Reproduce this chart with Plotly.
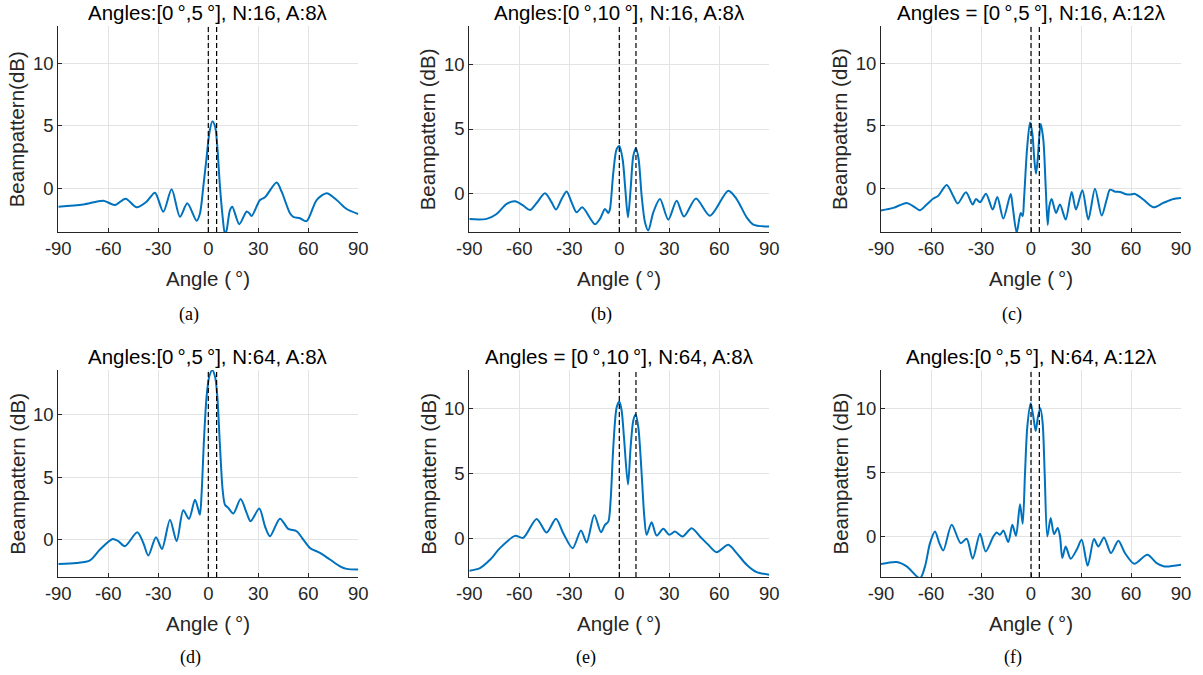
import plotly.graph_objects as go

# ---------------- data ----------------
ang_a = [-90, -75, -63, -56, -49.6, -43, -37, -32, -27, -22, -17, -12.6, -7, -5, -3, -1, 0.6, 2.4, 4, 5.4, 7, 8.6, 10,
         11, 13, 14.4, 18.6, 23, 24.6, 26, 31, 34, 41, 44, 49, 51, 55, 59, 65, 71, 77, 83, 90]
db_a = [-1.47, -1.3, -1.0, -1.34, -0.83, -1.52, -1.07, -0.35, -1.88, -0.08, -2.28, -1.2, -2.6, -2.01, 0.13, 2.5, 4.4,
        5.36, 5.0, 3.35, 0.13, -2.28, -3.7, -3.35, -1.74, -1.47, -2.87, -1.85, -2.0, -2.22, -0.94, -0.72, 0.46, -0.27,
        -2.0, -2.28, -2.4, -2.63, -0.94, -0.4, -0.94, -1.66, -2.06]

ang_b = [-90, -79.6, -73.6, -67.6, -62.6, -57.6, -53.6, -49.6, -44.6, -40.6, -38, -34.6, -31.6, -28.6, -25.6, -22.2,
         -14.6, -11.6, -8.6, -6.6, -5.6, -3.6, -1.6, 0, 2, 3.6, 5.2, 6.8, 8.4, 10, 11.6, 13.4, 15.4, 17.4, 20.4, 24.4,
         29.4, 34.4, 38.8, 46, 54.4, 65.4, 70.4, 76.4, 80.4, 90]
db_b = [-2.0, -1.98, -1.6, -0.82, -0.62, -0.95, -1.29, -0.75, 0, -0.7, -1.26, -0.44, 0.15, -0.7, -1.47, -1.08, -2.4,
        -1.98, -1.21, -1.52, -1.21, 1.62, 3.43, 3.68, 2.65, 0.33, -1.86, 0.33, 2.9, 3.5, 2.65, -0.18, -2.24, -2.89,
        -1.47, -0.44, -2.04, -0.57, -1.8, -0.39, -1.73, 0.21, -0.44, -1.86, -2.42, -2.58]

ang_c = [-90, -82.6, -74.6, -70.6, -66.6, -62.6, -58.6, -55.6, -50.6, -46.6, -44, -39, -35, -33, -30.6, -27, -23,
         -20.2, -16.6, -12.2, -11, -8.6, -6.2, -5, -4.2, -2.4, -0.6, 0.8, 2, 3, 4, 5.8, 7.4, 8.8, 10, 11, 12.4, 15,
         17.4, 20.8, 24.4, 27, 30.8, 34.4, 38.4, 42.4, 45.4, 47.4, 50.4, 53.4, 56.4, 59.4, 62.4, 67.4, 73.4, 79.4,
         85.4, 90]
db_c = [-1.78, -1.57, -1.17, -1.44, -1.76, -1.3, -0.82, -0.59, 0.27, -0.64, -1.22, -0.32, -1.3, -0.85, -1.12, -0.43,
        -1.7, -0.69, -2.42, -0.45, -1.44, -3.56, -1.97, -2.23, -0.9, 3.09, 5.27, 4.4, 2.29, 1.17, 2.29, 5.16, 3.88,
        0.16, -2.93, -1.44, -0.85, -1.97, -1.3, -2.5, -0.29, -1.7, -0.16, -2.5, -0.03, -2.18, -0.9, -0.11, -0.27,
        -0.29, -0.45, -0.5, -0.45, -0.9, -1.52, -1.17, -0.85, -0.77]

ang_d = [-90, -79, -71, -65, -57.4, -54, -50, -42.6, -39, -36, -31.4, -27.8, -23, -19, -15, -11.6, -8, -6, -5, -4,
         -2.6, -1, 0.6, 2.4, 4, 5.4, 7, 8.6, 10, 12, 15, 19.4, 23, 25.4, 30.6, 34, 37, 43, 48, 53, 57, 61, 67, 73, 79,
         83, 90]
db_d = [-1.95, -1.87, -1.66, -0.8, 0.05, -0.13, -0.53, 0.59, -0.27, -1.28, 0.19, -0.75, 1.6, -0.13, 2.35, 1.66, 3.2,
        2.41, 2.0, 3.74, 8.0, 11.5, 13.1, 13.58, 13.1, 11.5, 7.5, 4.0, 2.8, 2.54, 2.09, 3.26, 2.14, 1.47, 2.49, 1.07,
        0.27, 1.68, 0.86, 0.67, 0, -0.67, -1.07, -1.6, -2.14, -2.35, -2.4]

ang_e = [-90, -83.6, -77.6, -71.6, -62.6, -57.6, -49.6, -43.6, -38, -33.6, -28, -23, -19.6, -15, -11, -8.6, -6.6,
         -5.2, -3.6, -1.6, 0, 1.4, 2.8, 5.2, 6.8, 8.4, 9.8, 11.4, 13.4, 15, 16.4, 19.4, 22.4, 26.4, 30, 33.4, 38, 43.4,
         48.4, 53.4, 58.4, 65.4, 70.4, 76.4, 82.4, 90]
db_e = [-2.51, -2.31, -1.67, -0.77, 0.18, 0.03, 1.49, 0.44, 1.51, 0.38, -0.77, 0.59, -0.33, 1.79, 0.46, 1.03, 1.28,
        2.95, 7.05, 10.1, 10.56, 9.87, 7.8, 4.15, 7.05, 9.1, 9.56, 8.59, 5.0, 1.67, 0.26, 1.23, 0.2, 0.72, 0.26, 0.51,
        0.13, 0.77, 0.13, -0.51, -1.08, -0.51, -1.15, -2.05, -2.62, -2.82]

ang_f = [-90, -80.6, -74.6, -66.6, -63.6, -60.6, -57.6, -55, -52.6, -47.6, -42.2, -38.6, -35, -30.6, -27.2, -22.6,
         -20.6, -18.6, -16.6, -13.6, -11.2, -9, -6.6, -5, -3.6, -2.2, -0.2, 1.4, 2.8, 4.2, 5.6, 7, 8.2, 9.8, 11.8, 13.8,
         16, 17.4, 18.8, 20.8, 23.8, 27.4, 30.4, 34, 37.8, 40.4, 43.8, 48, 52.4, 56.4, 62, 69.8, 75.4, 80, 90]
db_f = [-2.19, -2.03, -2.37, -3.3, -2.37, -0.55, 0.36, -0.55, -1.12, 0.89, -0.55, -0.21, -1.77, 0.18, -1.2, -0.03,
        0.29, 0.1, 0.44, -0.47, 0.89, 0.03, 2.5, 0.96, 4.9, 8.57, 10.4, 9.35, 8.23, 9.35, 10.0, 8.83, 4.92, -0.03,
        1.41, 0.16, 0.63, -0.03, -1.72, -0.81, -1.77, -1.07, -0.29, -2.32, -0.23, -0.81, -0.1, -1.33, -0.36, -1.33,
        -2.16, -1.46, -2.11, -2.37, -2.24]

angles = [ang_a, ang_b, ang_c, ang_d, ang_e, ang_f]
values = [db_a, db_b, db_c, db_d, db_e, db_f]
target_angles = [[0, 5], [0, 10], [0, 5], [0, 5], [0, 10], [0, 5]]
titles = ["Angles:[0\u2009°,5\u2009°], N:16, A:8λ",
          "Angles:[0\u2009°,10\u2009°], N:16, A:8λ",
          "Angles = [0\u2009°,5\u2009°], N:16, A:12λ",
          "Angles:[0\u2009°,5\u2009°], N:64, A:8λ",
          "Angles = [0\u2009°,10\u2009°], N:64, A:8λ",
          "Angles:[0\u2009°,5\u2009°], N:64, A:12λ"]
ylabels = ["Beampattern(dB)", "Beampattern (dB)", "Beampattern (dB)",
           "Beampattern (dB)", "Beampattern (dB)", "Beampattern (dB)"]
xlabel = "Angle (\u2009°)"
captions = ["(a)", "(b)", "(c)", "(d)", "(e)", "(f)"]
yranges = [[-3.5, 13], [-3, 13], [-3.5, 13], [-3, 13.6], [-3, 13], [-3.2, 13]]
xticks = [-90, -60, -30, 0, 30, 60, 90]
xticklabels = ["-90", "-60", "-30", "0", "30", "60", "90"]
yticks = [0, 5, 10]
yticklabels = ["0", "5", "10"]

# ---------------- layout geometry (page pixels) ----------------
W, H = 1203, 675
x_left_px = [58.3, 469.3, 881]
plot_w = 300
row_top_px = [26, 370]
row_bot_px = [232, 577]
caption_x_px = [189, 601, 1012, 190, 586, 1013]
caption_y_px = [314, 657]


def px_x(p):
    return p / W


def px_y(p):
    return 1 - p / H


BLUE = "#0072BD"
INK = "#262626"
GRID = "#e3e3e3"
SANS = "Liberation Sans, Arial, sans-serif"
TICK_SIZE = 18.5
LABEL_SIZE = 20.5

fig = go.Figure()
layout = dict(width=W, height=H, autosize=False, margin=dict(l=0, r=0, t=0, b=0, pad=0),
              paper_bgcolor="white", plot_bgcolor="white", showlegend=False, template="none")
annotations = []
shapes = []

for i in range(6):
    r, c = divmod(i, 3)
    xs = "" if i == 0 else str(i + 1)
    xd = [px_x(x_left_px[c]), px_x(x_left_px[c] + plot_w)]
    yd = [px_y(row_bot_px[r]), px_y(row_top_px[r])]
    common = dict(showgrid=True, gridcolor=GRID, gridwidth=1, zeroline=False,
                  showline=True, linecolor=INK, linewidth=1, mirror=False,
                  ticks="inside", ticklen=4, tickcolor=INK, automargin=False,
                  tickfont=dict(family=SANS, size=TICK_SIZE, color=INK), fixedrange=True)
    layout["xaxis" + xs] = dict(domain=xd, anchor="y" + xs, range=[-90, 90], tickmode="array",
                                tickvals=xticks, ticktext=xticklabels, **common)
    layout["yaxis" + xs] = dict(domain=yd, anchor="x" + xs, range=yranges[i], tickmode="array",
                                tickvals=yticks, ticktext=yticklabels, **common)
    fig.add_trace(go.Scatter(x=angles[i], y=values[i], mode="lines", xaxis="x" + xs, yaxis="y" + xs,
                             line=dict(color=BLUE, width=2, shape="spline", smoothing=0.8),
                             hoverinfo="skip"))
    for a in target_angles[i]:
        shapes.append(dict(type="line", xref="x" + xs, yref="y" + xs + " domain", x0=a, x1=a, y0=0, y1=1,
                           line=dict(color="black", width=1.2, dash="5px,3px"), layer="above"))
    xc = (xd[0] + xd[1]) / 2
    yc = (yd[0] + yd[1]) / 2
    annotations.append(dict(text=titles[i], xref="paper", yref="paper", x=xc, y=px_y(row_top_px[r] - 14),
                            xanchor="center", yanchor="middle", showarrow=False,
                            font=dict(family=SANS, size=LABEL_SIZE, color="black")))
    annotations.append(dict(text=xlabel, xref="paper", yref="paper", x=xc, y=px_y(row_bot_px[r] + 46),
                            xanchor="center", yanchor="middle", showarrow=False,
                            font=dict(family=SANS, size=LABEL_SIZE, color=INK)))
    annotations.append(dict(text=ylabels[i], xref="paper", yref="paper", x=px_x(x_left_px[c] - 41), y=yc,
                            xanchor="center", yanchor="middle", textangle=-90, showarrow=False,
                            font=dict(family=SANS, size=LABEL_SIZE, color=INK)))
    annotations.append(dict(text=captions[i], xref="paper", yref="paper", x=px_x(caption_x_px[i]),
                            y=px_y(caption_y_px[r]), xanchor="center", yanchor="middle", showarrow=False,
                            font=dict(family="Liberation Serif, Times New Roman, serif", size=18, color="black")))

layout["annotations"] = annotations
layout["shapes"] = shapes
fig.update_layout(**layout)
# remove the default 8px page margin so the 1203x675 figure fills the window exactly
fig.write_html("out.html", config={"displayModeBar": False, "staticPlot": True},
               post_script="document.body.style.margin='0px';")
